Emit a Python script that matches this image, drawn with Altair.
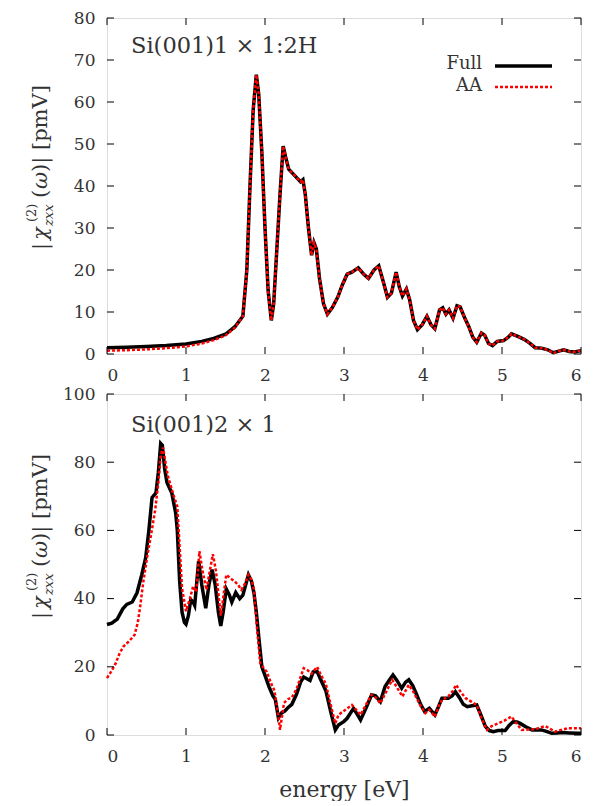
import altair as alt
import pandas as pd

# ---------------- data ----------------
top_full_e = [0.00, 0.25, 0.50, 0.75, 1.00, 1.20, 1.35, 1.50, 1.62, 1.72, 1.77, 1.81, 1.85, 1.89, 1.92,
              1.96, 2.00, 2.04, 2.08, 2.11, 2.15, 2.19, 2.23, 2.26, 2.30, 2.35, 2.40, 2.45, 2.48, 2.51,
              2.55, 2.59, 2.62, 2.65, 2.69, 2.74, 2.79, 2.85, 2.92, 2.98, 3.04, 3.10, 3.18, 3.25, 3.31,
              3.38, 3.44, 3.50, 3.55, 3.60, 3.66, 3.70, 3.74, 3.79, 3.83, 3.88, 3.93, 3.99, 4.05, 4.10,
              4.15, 4.21, 4.25, 4.29, 4.33, 4.38, 4.43, 4.47, 4.53, 4.58, 4.63, 4.68, 4.74, 4.78, 4.83,
              4.88, 4.94, 5.02, 5.08, 5.12, 5.20, 5.28, 5.35, 5.42, 5.50, 5.58, 5.65, 5.72, 5.78, 5.85,
              5.92, 6.00]
top_full_v = [1.5, 1.6, 1.8, 2.0, 2.4, 3.0, 3.7, 4.7, 6.5, 9.0, 20.0, 40.0, 58.0, 66.5, 62.0,
              48.0, 30.0, 15.0, 8.0, 12.0, 25.0, 38.0, 49.5, 47.0, 44.0, 43.0, 42.0, 41.0, 41.5, 38.0,
              30.0, 23.5, 26.5, 25.0, 18.0, 12.0, 9.5, 11.0, 13.5, 16.5, 19.0, 19.5, 20.5, 19.0, 18.0,
              20.0, 21.0, 17.0, 13.5, 14.5, 19.5, 16.0, 13.8, 15.5, 13.0, 8.0, 5.8, 7.0, 9.0, 7.0,
              6.0, 10.5, 11.0, 9.5, 10.5, 8.5, 11.5, 11.2, 8.5, 6.5, 4.0, 2.8, 5.0, 4.5, 2.5,
              2.0, 3.0, 3.2, 4.0, 4.8, 4.2, 3.5, 2.6, 1.5, 1.4, 1.0, 0.3, 0.7, 1.0, 0.6,
              0.5, 0.8]
top_aa_e = top_full_e
top_aa_v = [0.8, 0.9, 1.1, 1.4, 1.8, 2.5, 3.3, 4.4, 6.3, 9.0, 20.0, 40.0, 58.0, 66.5, 62.0,
            48.0, 30.0, 15.0, 8.0, 12.0, 25.0, 38.0, 49.5, 47.0, 44.0, 43.0, 42.0, 41.0, 41.5, 38.0,
            30.0, 23.5, 26.5, 25.0, 18.0, 12.0, 9.5, 11.0, 13.5, 16.5, 19.0, 19.5, 20.5, 19.0, 18.0,
            20.0, 21.0, 17.0, 13.5, 14.5, 19.5, 16.0, 13.8, 15.5, 13.0, 8.0, 5.8, 7.0, 9.0, 7.0,
            6.0, 10.5, 11.0, 9.5, 10.5, 8.5, 11.5, 11.2, 8.5, 6.5, 4.0, 2.8, 5.0, 4.5, 2.5,
            2.0, 3.0, 3.2, 4.0, 4.8, 4.2, 3.5, 2.6, 1.5, 1.4, 1.0, 0.2, 0.7, 1.0, 0.6,
            0.5, 0.8]

bot_full_e = [0.00, 0.06, 0.13, 0.20, 0.25, 0.32, 0.38, 0.44, 0.49, 0.53, 0.57, 0.62, 0.65, 0.68, 0.70,
              0.73, 0.76, 0.82, 0.87, 0.89, 0.92, 0.95, 0.98, 1.00, 1.03, 1.06, 1.09, 1.11, 1.16, 1.20,
              1.25, 1.29, 1.33, 1.37, 1.41, 1.44, 1.47, 1.51, 1.55, 1.58, 1.63, 1.68, 1.72, 1.79, 1.83,
              1.86, 1.89, 1.92, 1.96, 2.00, 2.05, 2.10, 2.13, 2.17, 2.21, 2.25, 2.29, 2.34, 2.40, 2.45,
              2.49, 2.53, 2.57, 2.61, 2.66, 2.70, 2.77, 2.83, 2.89, 2.93, 3.00, 3.04, 3.12, 3.17, 3.21,
              3.28, 3.35, 3.40, 3.46, 3.52, 3.57, 3.62, 3.67, 3.73, 3.78, 3.82, 3.87, 3.92, 3.97, 4.02,
              4.08, 4.15, 4.20, 4.24, 4.32, 4.37, 4.41, 4.46, 4.51, 4.56, 4.62, 4.68, 4.73, 4.79, 4.84,
              4.89, 4.95, 5.04, 5.09, 5.14, 5.19, 5.23, 5.30, 5.38, 5.44, 5.50, 5.57, 5.63, 5.70, 5.76,
              5.85, 5.97, 6.00]
bot_full_v = [32.4, 32.8, 34.0, 37.0, 38.3, 39.0, 41.7, 47.0, 52.0, 60.0, 69.6, 71.0, 77.0, 85.5, 85.0,
              78.0, 74.0, 71.0, 65.0, 60.0, 45.0, 36.0, 33.0, 32.5, 35.0, 39.7, 39.0, 38.0, 51.0, 44.0,
              37.2, 44.0, 48.5, 44.0, 36.0, 32.0, 36.0, 42.8, 41.0, 39.0, 41.8, 40.0, 41.0, 47.0, 45.0,
              41.7, 36.0, 29.0, 20.0, 17.5, 14.2, 11.5, 10.5, 5.0, 6.5, 7.0, 8.0, 9.0, 12.0, 15.5,
              17.0, 16.5, 16.0, 18.5, 18.6, 16.5, 13.0, 7.0, 1.5, 2.9, 4.0, 4.9, 7.8, 6.0, 4.4,
              8.0, 11.8, 11.5, 9.8, 14.2, 16.0, 17.6, 16.0, 13.7, 15.5, 16.2, 14.5, 11.8, 9.0, 6.9,
              7.8, 5.9, 8.5, 10.8, 10.8, 11.5, 12.7, 11.0, 9.0, 8.3, 8.6, 8.8, 6.0, 2.5, 1.3,
              1.0, 1.3, 1.3, 2.8, 3.9, 3.8, 3.4, 2.4, 1.5, 1.5, 1.5, 1.0, 0.5, 0.6, 0.7,
              0.6, 0.5, 0.5]

bot_aa_e = [0.00, 0.05, 0.11, 0.16, 0.21, 0.28, 0.35, 0.39, 0.42, 0.46, 0.51, 0.56, 0.61, 0.65, 0.68,
            0.71, 0.74, 0.77, 0.82, 0.89, 0.92, 0.95, 1.00, 1.05, 1.09, 1.13, 1.17, 1.21, 1.26, 1.30,
            1.34, 1.38, 1.44, 1.47, 1.51, 1.56, 1.62, 1.66, 1.70, 1.75, 1.79, 1.83, 1.86, 1.90, 1.94,
            2.02, 2.08, 2.12, 2.16, 2.19, 2.24, 2.29, 2.34, 2.40, 2.45, 2.49, 2.54, 2.59, 2.66, 2.71,
            2.77, 2.83, 2.89, 2.93, 3.04, 3.10, 3.15, 3.21, 3.28, 3.35, 3.40, 3.46, 3.53, 3.61, 3.67,
            3.74, 3.78, 3.82, 3.87, 3.92, 3.97, 4.03, 4.08, 4.15, 4.20, 4.24, 4.32, 4.38, 4.42, 4.48,
            4.54, 4.61, 4.68, 4.74, 4.81, 4.87, 4.95, 5.03, 5.12, 5.18, 5.25, 5.33, 5.42, 5.50, 5.55,
            5.61, 5.67, 5.75, 5.84, 5.97, 6.00]
bot_aa_v = [16.7, 18.5, 21.0, 24.0, 26.0, 27.5, 29.4, 33.0, 37.7, 45.0, 52.5, 59.0, 66.0, 74.0, 82.0,
            84.3, 80.0, 76.0, 72.0, 67.0, 55.0, 43.0, 36.3, 40.0, 43.6, 42.0, 53.9, 48.0, 42.6, 48.0,
            53.0, 48.0, 35.0, 40.0, 47.0, 46.0, 45.0, 44.0, 42.6, 44.5, 47.0, 45.5, 42.6, 31.0, 21.0,
            18.6, 15.0, 13.0, 7.0, 1.5, 9.4, 10.5, 11.0, 13.5, 17.0, 19.6, 19.0, 18.0, 20.0, 17.5,
            15.0, 9.0, 3.4, 5.9, 7.8, 8.8, 7.5, 5.9, 9.0, 11.8, 11.0, 9.3, 12.5, 16.2, 14.0,
            11.3, 13.0, 14.7, 13.0, 10.8, 8.5, 6.4, 7.4, 5.4, 8.5, 10.3, 11.3, 13.0, 14.7, 12.5,
            10.8, 9.8, 8.8, 5.0, 1.5, 2.6, 3.4, 4.2, 5.4, 3.5, 1.5, 1.6, 1.7, 2.3, 2.6,
            1.8, 1.0, 1.5, 2.0, 2.0, 2.0]

x_ticks = [0, 1, 2, 3, 4, 5, 6]
top_y_ticks = [0, 10, 20, 30, 40, 50, 60, 70, 80]
bot_y_ticks = [0, 20, 40, 60, 80, 100]
series_names = ["Full", "AA"]
panel_labels = ["Si(001)1 × 1:2H", "Si(001)2 × 1"]
x_title = "energy [eV]"

# ---------------- style ----------------
FONT = "DejaVu Serif"
TXT = "#333333"
W = 474
TICK = 7
RED = "#ff0000"


def txt(s, x, y, size, angle=0, align="left", baseline="middle", style="normal"):
    return alt.Chart(pd.DataFrame({"t": [s]})).mark_text(
        font=FONT, fontSize=size, fontStyle=style, angle=angle, align=align,
        baseline=baseline, color=TXT
    ).encode(text="t:N", x=alt.value(x), y=alt.value(y))


def ytitle(dy):
    # pieces of |chi^(2)_zxx(omega)| [pmV], rotated, reading bottom-to-top
    parts = [
        ("|", -66, 232 + dy, 21, "normal"),
        ("χ", -66, 222 + dy, 21, "italic"),
        ("(2)", -75, 204 + dy, 13, "normal"),
        ("zxx", -58, 208 + dy, 13, "italic"),
        ("(", -66, 180 + dy, 21, "normal"),
        ("ω", -66, 171 + dy, 21, "italic"),
        (")| [pmV]", -66, 154 + dy, 21, "normal"),
    ]
    return [txt(s, x, y, sz, angle=270, style=st) for s, x, y, sz, st in parts]


def panel(fe, fv, ae, av, ymax, yticks, label, label_y, legend, dy, show_xtitle, H):
    xs = alt.Scale(domain=[0, 6], nice=False)
    ys = alt.Scale(domain=[0, ymax], nice=False)
    xaxis = alt.Axis(values=x_ticks, format="d", tickSize=0, domain=False, grid=False,
                     labelFont=FONT, labelFontSize=17, labelPadding=13, labelColor=TXT,
                     title=x_title if show_xtitle else None, titleFont=FONT, titleFontSize=22,
                     titleFontWeight="normal", titleColor=TXT, titlePadding=15)
    yaxis = alt.Axis(values=yticks, format="d", tickSize=0, domain=False, grid=False,
                     labelFont=FONT, labelFontSize=17, labelPadding=12, labelColor=TXT,
                     title=None)

    dfull = pd.DataFrame({"e": fe, "v": fv})
    daa = pd.DataFrame({"e": ae, "v": av})
    full = alt.Chart(dfull).mark_line(color="black", strokeWidth=3.5).encode(
        x=alt.X("e:Q", scale=xs, axis=xaxis), y=alt.Y("v:Q", scale=ys, axis=yaxis))
    aa = alt.Chart(daa).mark_line(color=RED, strokeWidth=2.5, strokeDash=[3, 2]).encode(
        x=alt.X("e:Q", scale=xs), y=alt.Y("v:Q", scale=ys))

    dxt = pd.DataFrame({"e": x_ticks})
    dyt = pd.DataFrame({"v": yticks})
    rule = dict(color="black", strokeWidth=1)
    tb = alt.Chart(dxt).mark_rule(**rule).encode(x=alt.X("e:Q", scale=xs), y=alt.value(H), y2=alt.value(H - TICK))
    tt = alt.Chart(dxt).mark_rule(**rule).encode(x=alt.X("e:Q", scale=xs), y=alt.value(0), y2=alt.value(TICK))
    tl = alt.Chart(dyt).mark_rule(**rule).encode(y=alt.Y("v:Q", scale=ys), x=alt.value(0), x2=alt.value(TICK))
    tr = alt.Chart(dyt).mark_rule(**rule).encode(y=alt.Y("v:Q", scale=ys), x=alt.value(W), x2=alt.value(W - TICK))

    layers = [full, aa, tb, tt, tl, tr, txt(label, 24, label_y, 22.5)]
    layers += ytitle(dy)
    if legend:
        one = pd.DataFrame({"a": [0]})
        layers += [
            txt(series_names[0], 375, 46, 18, align="right"),
            txt(series_names[1], 375, 68, 18, align="right"),
            alt.Chart(one).mark_rule(color="black", strokeWidth=3.5).encode(
                x=alt.value(388), x2=alt.value(445), y=alt.value(48)),
            alt.Chart(one).mark_rule(color=RED, strokeWidth=2.5, strokeDash=[3, 2]).encode(
                x=alt.value(388), x2=alt.value(445), y=alt.value(69)),
        ]
    return alt.layer(*layers).properties(width=W, height=H)


top = panel(top_full_e, top_full_v, top_aa_e, top_aa_v, 80, top_y_ticks, panel_labels[0], 28,
            True, 0, False, 336)
bot = panel(bot_full_e, bot_full_v, bot_aa_e, bot_aa_v, 100, bot_y_ticks, panel_labels[1], 31,
            False, -7, True, 341)

chart = alt.vconcat(top, bot, spacing=0).properties(
    padding={"left": 17, "top": 0, "right": 5, "bottom": 0}
).configure_view(stroke="black", strokeWidth=1.2).configure(background="white")

chart.save("out.html", embed_options={"renderer": "svg", "actions": False})
